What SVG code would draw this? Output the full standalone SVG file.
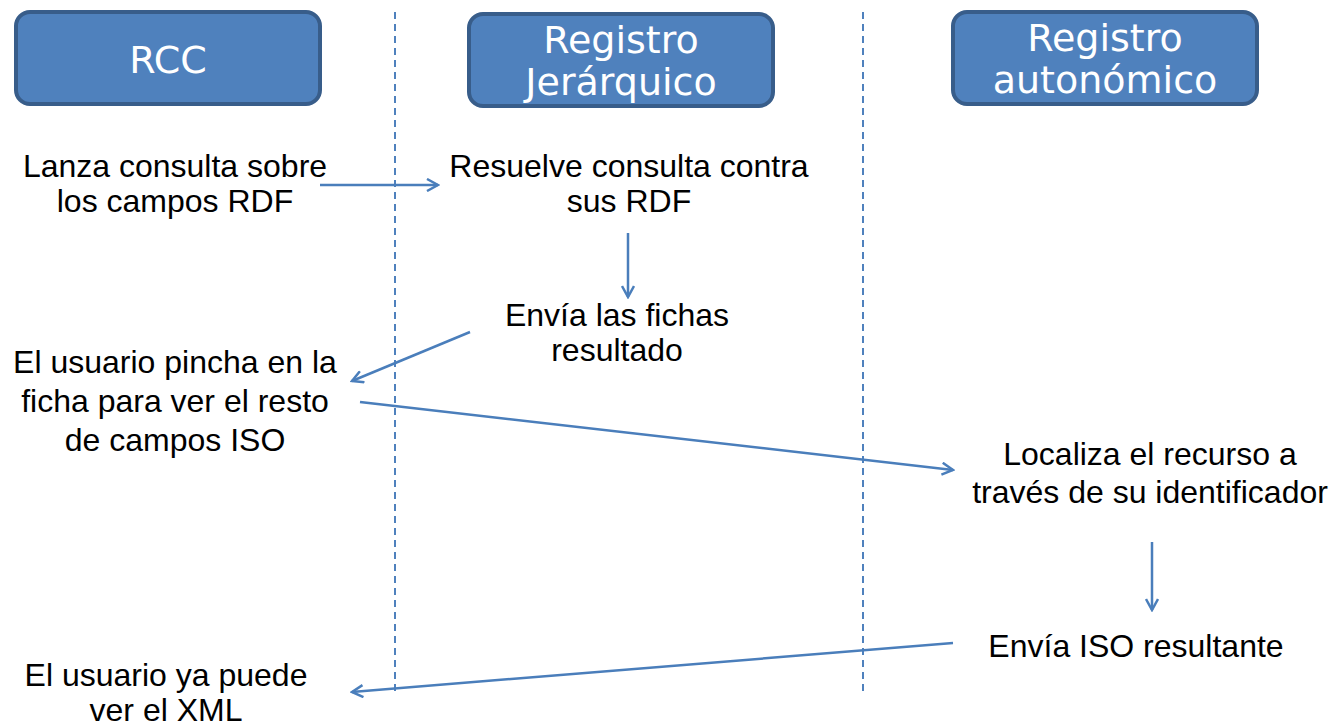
<svg xmlns="http://www.w3.org/2000/svg" width="1331" height="725" viewBox="0 0 1331 725">
<style>
.box{fill:#4F81BD;stroke:#385D8A;stroke-width:4}
.bt{font-family:"DejaVu Sans",Verdana,sans-serif;font-size:38px;fill:#fff;text-anchor:middle}
.t{font-family:"Liberation Sans",Arial,sans-serif;font-size:32px;fill:#000;text-anchor:middle}
.life{stroke:#4F81BD;stroke-width:2;stroke-dasharray:7 5;fill:none}
.c{stroke:#4A7EBB;stroke-width:2.5;fill:none}
</style>
<defs>
<marker id="ah" markerWidth="14" markerHeight="14" refX="12" refY="7" orient="auto" markerUnits="userSpaceOnUse">
<path d="M1,1 L12,7 L1,13" fill="none" stroke="#4A7EBB" stroke-width="2.5"/>
</marker>
</defs>
<rect width="1331" height="725" fill="#fff"/>
<g id="lifelines">
<line class="life" x1="395" y1="12" x2="395" y2="695"/>
<line class="life" x1="863" y1="12" x2="863" y2="695"/>
</g>
<g id="rcc">
<rect class="box" x="16" y="12" width="304" height="92" rx="14"/>
<text class="bt" x="168" y="73">RCC</text>
</g>
<g id="jerarquico">
<rect class="box" x="469" y="14" width="304" height="92" rx="14"/>
<text class="bt" x="621" y="53">Registro</text>
<text class="bt" x="621" y="95">Jerárquico</text>
</g>
<g id="autonomico">
<rect class="box" x="953" y="12" width="304" height="92" rx="14"/>
<text class="bt" x="1105" y="51">Registro</text>
<text class="bt" x="1105" y="93">autonómico</text>
</g>
<g id="texts">
<text class="t" x="175" y="177">Lanza consulta sobre</text>
<text class="t" x="175" y="212">los campos RDF</text>
<text class="t" x="629" y="177">Resuelve consulta contra</text>
<text class="t" x="629" y="212">sus RDF</text>
<text class="t" x="617" y="326">Envía las fichas</text>
<text class="t" x="617" y="361">resultado</text>
<text class="t" x="175" y="373">El usuario pincha en la</text>
<text class="t" x="175" y="412">ficha para ver el resto</text>
<text class="t" x="175" y="451">de campos ISO</text>
<text class="t" x="1150" y="465">Localiza el recurso a</text>
<text class="t" x="1150" y="503">través de su identificador</text>
<text class="t" x="1136" y="657">Envía ISO resultante</text>
<text class="t" x="166" y="686">El usuario ya puede</text>
<text class="t" x="166" y="721">ver el XML</text>
</g>
<g id="connectors">
<line class="c" x1="320" y1="185" x2="438" y2="185" marker-end="url(#ah)"/>
<line class="c" x1="628" y1="233" x2="628" y2="297" marker-end="url(#ah)"/>
<line class="c" x1="470" y1="332" x2="352" y2="381" marker-end="url(#ah)"/>
<line class="c" x1="360" y1="402" x2="953" y2="470" marker-end="url(#ah)"/>
<line class="c" x1="1152" y1="542" x2="1152" y2="610" marker-end="url(#ah)"/>
<line class="c" x1="953" y1="643" x2="352" y2="692" marker-end="url(#ah)"/>
</g>
</svg>
